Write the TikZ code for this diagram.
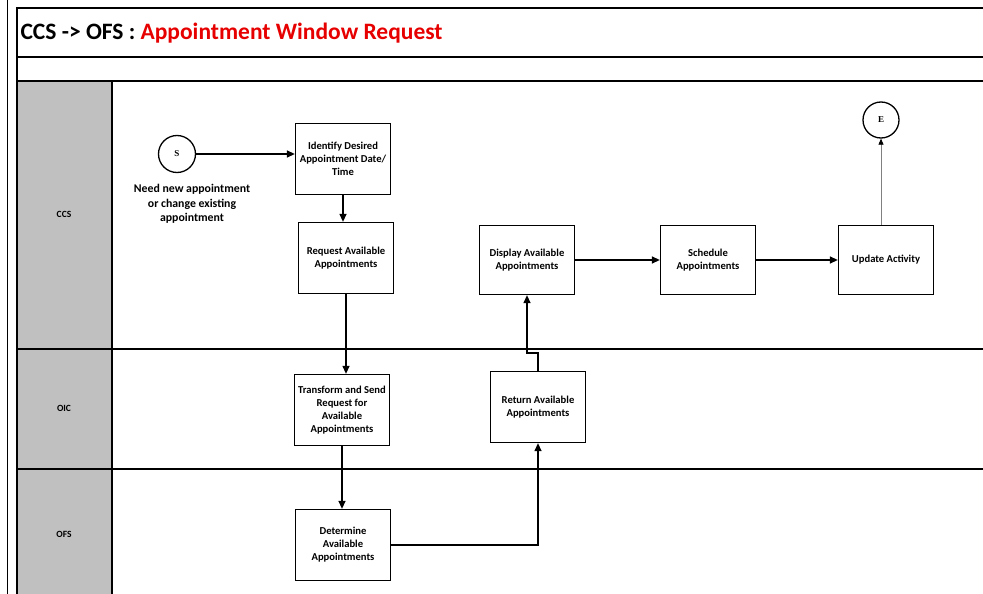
\documentclass[tikz,border=0pt]{standalone}
\usepackage{fontspec}
\setmainfont{Carlito}
\newfontfamily\termfont{Liberation Serif}
\usetikzlibrary{positioning,arrows.meta}
\definecolor{lanegray}{RGB}{192,192,192}
\definecolor{titlered}{RGB}{230,0,0}
\tikzset{
>={Triangle[length=8pt,width=7pt]}, % filled arrow heads
task/.style={rectangle, draw, line width=1.3pt, minimum width=95pt, minimum height=71pt, align=center, inner sep=2pt, font=\bfseries\fontsize{10.6}{13}\selectfont},
terminal/.style={circle, draw, line width=1.3pt, minimum size=37pt, inner sep=0pt, font=\termfont\bfseries\fontsize{9}{10}\selectfont},
lanename/.style={font=\bfseries\fontsize{9.5}{11}\selectfont},
frame/.style={line width=1.3pt},
flow/.style={->, line width=1.3pt}
}

\begin{document}
\begin{tikzpicture}[x=1pt,y=-1pt]
   \useasboundingbox (0,0) rectangle (983,594);
   % pool and lanes
   \fill[lanegray] (17,81) rectangle (112,594);
   \draw[line width=0.8pt] (7,0) -- (7,594);
   \draw[frame] (983,8) -- (17,8) -- (17,594);
   \draw[frame] (17,57) -- (983,57);
   \draw[frame] (17,81) -- (983,81);
   \draw[frame] (17,349) -- (983,349);
   \draw[frame] (17,469) -- (983,469);
   \draw[frame] (112,81) -- (112,594);
   \node[anchor=west, font=\bfseries\fontsize{23.5}{26}\selectfont] (title) at (17,33) {CCS -> OFS : \textcolor{titlered}{Appointment Window Request}};
   \node[lanename] (ccs) at (64,214) {CCS};
   \node[lanename] (oic) at (64,408) {OIC};
   \node[lanename] (ofs) at (64,534) {OFS};
   % steps
   \node[terminal] (start) at (177,154) {S};
   \node[align=center, font=\bfseries\fontsize{11.8}{14.5}\selectfont] (startnote) at (192,204) {Need new appointment\\or change existing\\appointment};
   \node[task] (ident) at (343,159) {Identify Desired\\Appointment Date/\\Time};
   \node[task] (request) at (346,258) {Request Available\\Appointments};
   \node[task] (transform) at (342,410) {Transform and Send\\Request for\\Available\\Appointments};
   \node[task] (determine) at (343,545) {Determine\\Available\\Appointments};
   \node[task] (retavail) at (538,407) {Return Available\\Appointments};
   \node[task, minimum height=69pt] (display) at (527,260) {Display Available\\Appointments};
   \node[task, minimum height=69pt] (schedule) at (708,260) {Schedule\\Appointments};
   \node[task, minimum height=69pt] (update) at (886,260) {Update Activity};
   \node[terminal, minimum size=36pt] (finish) at (881,120) {E};
   % connectors
   \draw[flow] (start.east) -- (start.east -| ident.west);
   \draw[flow] (ident.south) -- (ident.south |- request.north);
   \draw[flow] (request.south) -- (request.south |- transform.north);
   \draw[flow] (transform.south) -- (transform.south |- determine.north);
   \draw[flow] (determine.east) -| (retavail.south);
   \draw[flow] (retavail.north) -- ++(0,-18) -| (display.south);
   \draw[flow] (display) -- (schedule);
   \draw[flow] (schedule) -- (update);
   \draw[gray, line width=0.8pt, -{Triangle[length=6pt,width=5pt,color=black]}] (finish |- update.north) -- (finish.south);
\end{tikzpicture}
\end{document}
